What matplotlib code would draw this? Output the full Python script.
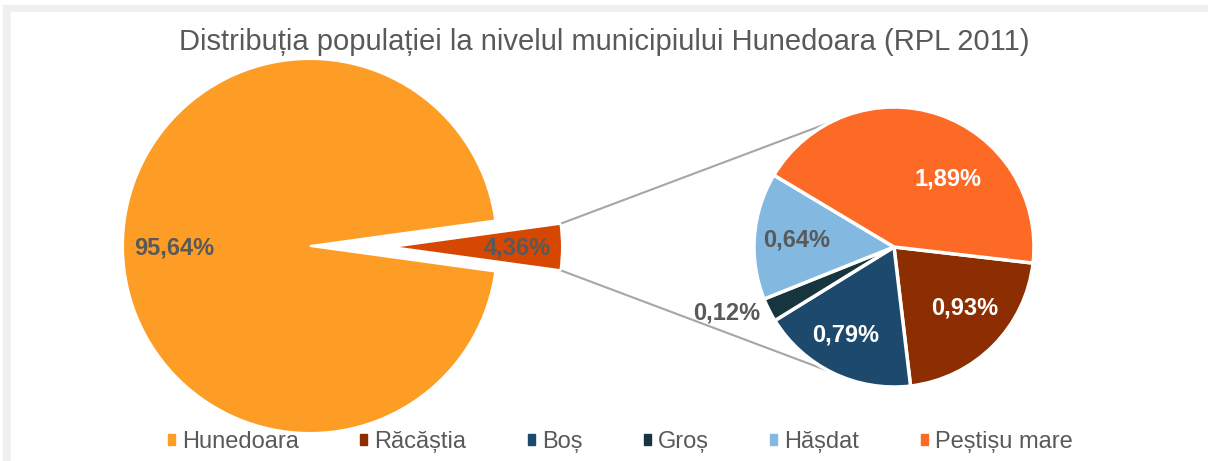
import matplotlib.pyplot as plt
from matplotlib.patches import Rectangle
import numpy as np

plt.rcParams['font.family'] = ['Liberation Sans', 'DejaVu Sans']

# data
main_labels = ["Hunedoara", "Altele"]
main_values = [95.64, 4.36]
sub_labels = ["Răcăștia", "Boș", "Groș", "Hășdat", "Peștișu mare"]
sub_values = [0.93, 0.79, 0.12, 0.64, 1.89]

main_colors = ["#FD9D25", "#D64701"]
sub_colors = ["#8C2D02", "#1D4A6C", "#17353F", "#83B8E1", "#FC6A26"]
legend_colors = [main_colors[0]] + sub_colors
legend_names = [main_labels[0]] + sub_labels

W, H = 1208, 461
TEXT_GRAY = "#595959"


def Y(y_img):
    return H - y_img


def fmt(v):
    return f"{v:.2f}%".replace(".", ",")


figure = plt.figure(figsize=(W / 100, H / 100), dpi=100)
axis = figure.add_axes([0, 0, 1, 1])

# frame like the excel chart border
axis.add_patch(Rectangle((3, 0), W, Y(5), color="#efefef", zorder=0))
axis.add_patch(Rectangle((11, 0), W, Y(12), color="white", zorder=0))

axis.text(604, Y(42), "Distribuția populației la nivelul municipiului Hunedoara (RPL 2011)",
          ha="center", va="center", fontsize=21, color=TEXT_GRAY)

half = 360 * main_values[1] / 100 / 2
wprops = dict(edgecolor="white", linewidth=1.5)

# main pie (hunedoara) with the gap for the rest
big_center = (310, Y(246))
big_r = 187
wedges, _ = axis.pie([main_values[1], main_values[0]], startangle=-half,
                     colors=["none", main_colors[0]], center=big_center,
                     radius=big_r, wedgeprops=wprops)
wedges[0].set_visible(False)

# exploded rest slice
small_center = (392, Y(247))
small_r = 170
wedges, _ = axis.pie([main_values[1], main_values[0]], startangle=-half,
                     colors=[main_colors[1], "none"], center=small_center,
                     radius=small_r, wedgeprops=wprops)
wedges[1].set_visible(False)

# second pie
sub_center = (894, Y(247))
sub_r = 140
sub_wedges, _ = axis.pie(sub_values, startangle=-6.6, counterclock=False,
                         colors=sub_colors, center=sub_center, radius=sub_r,
                         wedgeprops=dict(edgecolor="white", linewidth=2.5))

# connector lines
link_angle = 117
for sign in (1, -1):
    a0 = np.deg2rad(sign * half)
    a1 = np.deg2rad(sign * link_angle)
    x0 = small_center[0] + small_r * np.cos(a0)
    y0 = small_center[1] + small_r * np.sin(a0)
    x1 = sub_center[0] + sub_r * np.cos(a1)
    y1 = sub_center[1] + sub_r * np.sin(a1)
    axis.plot([x0, x1], [y0, y1], color="#a6a6a6", linewidth=1.5, zorder=0.5)

# data labels
label_font = dict(fontsize=17, fontweight="bold", ha="center", va="center")
axis.text(174, Y(248), fmt(main_values[0]), color=TEXT_GRAY, **label_font)
axis.text(517, Y(248), fmt(main_values[1]), color=TEXT_GRAY, **label_font)
sub_pos = [(965, 308), (846, 335), (727, 313), (797, 240), (948, 179)]
sub_text_colors = ["white", "white", TEXT_GRAY, TEXT_GRAY, "white"]
for value, (x, y), c in zip(sub_values, sub_pos, sub_text_colors):
    axis.text(x, Y(y), fmt(value), color=c, **label_font)

handles = [Rectangle((0, 0), 1, 1, color=c) for c in legend_colors]
axis.legend(handles, legend_names, loc="center", bbox_to_anchor=(620 / W, 1 - 442 / H),
            ncol=6, frameon=False, fontsize=17, labelcolor=TEXT_GRAY,
            handlelength=0.3, handleheight=0.3, handletextpad=0.3, columnspacing=2.6,
            borderpad=0)

axis.set_xlim(0, W)
axis.set_ylim(0, H)
axis.set_aspect("equal")
axis.axis("off")

figure.savefig("out.png", dpi=100)
